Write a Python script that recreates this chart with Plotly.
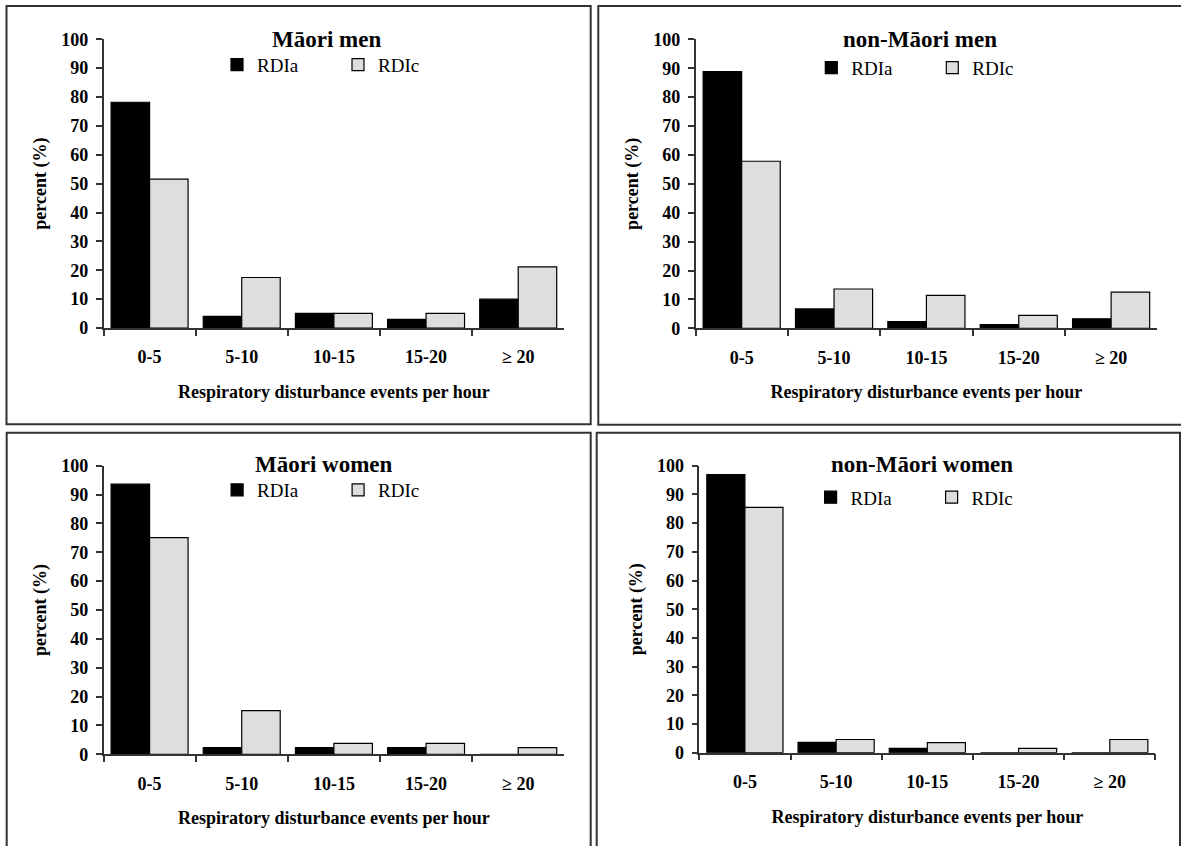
import plotly.graph_objects as go

# ---------------- data ----------------
categories = ["0-5", "5-10", "10-15", "15-20", "≥ 20"]
series_names = ["RDIa", "RDIc"]
panel_titles = ["Māori men", "non-Māori men", "Māori women", "non-Māori women"]

maori_men_rdia = [78.2, 4.0, 5.1, 3.0, 10.0]
maori_men_rdic = [51.6, 17.5, 5.1, 5.1, 21.2]
nonmaori_men_rdia = [88.8, 6.7, 2.3, 1.3, 3.3]
nonmaori_men_rdic = [57.8, 13.6, 11.4, 4.5, 12.5]
maori_women_rdia = [93.6, 2.3, 2.3, 2.3, 0.0]
maori_women_rdic = [75.1, 15.1, 3.8, 3.8, 2.3]
nonmaori_women_rdia = [96.9, 3.6, 1.5, 0.0, 0.0]
nonmaori_women_rdic = [85.5, 4.6, 3.5, 1.5, 4.6]

y_tick_values = [0, 10, 20, 30, 40, 50, 60, 70, 80, 90, 100]
x_title = "Respiratory disturbance events per hour"
y_title = "percent (%)"

panel_data = [
    (maori_men_rdia, maori_men_rdic),
    (nonmaori_men_rdia, nonmaori_men_rdic),
    (maori_women_rdia, maori_women_rdic),
    (nonmaori_women_rdia, nonmaori_women_rdic),
]

# ---------------- layout geometry (pixels) ----------------
W, H = 1181, 846
FONT = "Liberation Serif, Times New Roman, serif"
# plot areas: (x_left, x_right, y_top(100), y_bottom(0))
plot_px = [
    (103.5, 564.3, 39.3, 328.0),
    (695.5, 1157.3, 39.3, 328.3),
    (103.5, 564.3, 465.7, 754.3),
    (699.3, 1155.4, 465.7, 752.7),
]
# boxes: (x0, y0, x1, y1)
box_px = [
    (6.5, 6.0, 590.7, 424.3),
    (598.3, 6.0, 1183.0, 424.7),
    (6.7, 432.7, 590.7, 852.0),
    (596.7, 432.7, 1180.0, 852.0),
]
title_px = [(326, 40), (920, 40), (324, 464), (922, 464)]
legend_sq_px = [(235, 64.8), (829.3, 67.7), (235.1, 490), (828.6, 497.3)]

colors = ["#000000", "#DEDEDE"]


def px_x(x):
    return x / W


def px_y(y):
    return 1 - y / H


fig = go.Figure()
legend_ids = ["legend", "legend2", "legend3", "legend4"]

for i, (a_vals, c_vals) in enumerate(panel_data):
    axn = "" if i == 0 else str(i + 1)
    for j, vals in enumerate([a_vals, c_vals]):
        fig.add_trace(go.Bar(
            x=categories, y=vals, name=series_names[j],
            marker=dict(color=colors[j], line=dict(color="#000000", width=1.2)),
            xaxis="x" + axn, yaxis="y" + axn,
            legend=legend_ids[i], showlegend=True,
        ))

layout = dict(
    width=W, height=H, autosize=False,
    margin=dict(l=0, r=0, t=0, b=0, pad=0, autoexpand=False),
    paper_bgcolor="white", plot_bgcolor="white",
    barmode="group", bargap=0.165, bargroupgap=0,
    font=dict(family=FONT, color="#000000"),
    shapes=[], annotations=[],
)

for i in range(4):
    axn = "" if i == 0 else str(i + 1)
    xl, xr, yt, yb = plot_px[i]
    layout["xaxis" + axn] = dict(
        domain=[px_x(xl), px_x(xr)], anchor="y" + axn, automargin=False,
        type="category", categoryorder="array", categoryarray=categories,
        showline=True, linecolor="#333333", linewidth=1.5,
        ticks="outside", ticklen=6, tickwidth=1.5, tickcolor="#333333",
        tickson="boundaries", ticklabelstandoff=12,
        tickfont=dict(family=FONT, size=18, weight="bold"),
        showgrid=False, zeroline=False, fixedrange=True,
        title=dict(text=x_title, font=dict(family=FONT, size=18, weight="bold"), standoff=19),
    )
    layout["yaxis" + axn] = dict(
        domain=[px_y(yb), px_y(yt)], anchor="x" + axn, automargin=False,
        range=[0, 100], tickvals=y_tick_values,
        showline=True, linecolor="#333333", linewidth=1.5,
        ticks="outside", ticklen=6, tickwidth=1.5, tickcolor="#333333",
        ticklabelstandoff=4,
        tickfont=dict(family=FONT, size=18, weight="bold"),
        showgrid=False, zeroline=False, fixedrange=True,
        title=dict(text=y_title, font=dict(family=FONT, size=18, weight="bold"), standoff=10),
    )
    x0, y0, x1, y1 = box_px[i]
    layout["shapes"].append(dict(
        type="rect", xref="paper", yref="paper",
        x0=px_x(x0), x1=px_x(x1), y0=px_y(y1), y1=px_y(y0),
        line=dict(color="#333333", width=2), fillcolor="rgba(0,0,0,0)", layer="above",
    ))
    tx, ty = title_px[i]
    layout["annotations"].append(dict(
        text=panel_titles[i], xref="paper", yref="paper",
        x=px_x(tx), y=px_y(ty), xanchor="center", yanchor="middle",
        showarrow=False, font=dict(family=FONT, size=23, weight="bold"),
    ))
    sx, sy = legend_sq_px[i]
    layout[legend_ids[i]] = dict(
        orientation="h", x=px_x(sx - 18), y=px_y(sy), xanchor="left", yanchor="middle",
        bgcolor="rgba(0,0,0,0)", borderwidth=0, entrywidth=76, entrywidthmode="pixels",
        font=dict(family=FONT, size=19), itemclick=False, itemdoubleclick=False,
        tracegroupgap=0,
    )

fig.update_layout(**layout)
fig.write_html("out.html")
